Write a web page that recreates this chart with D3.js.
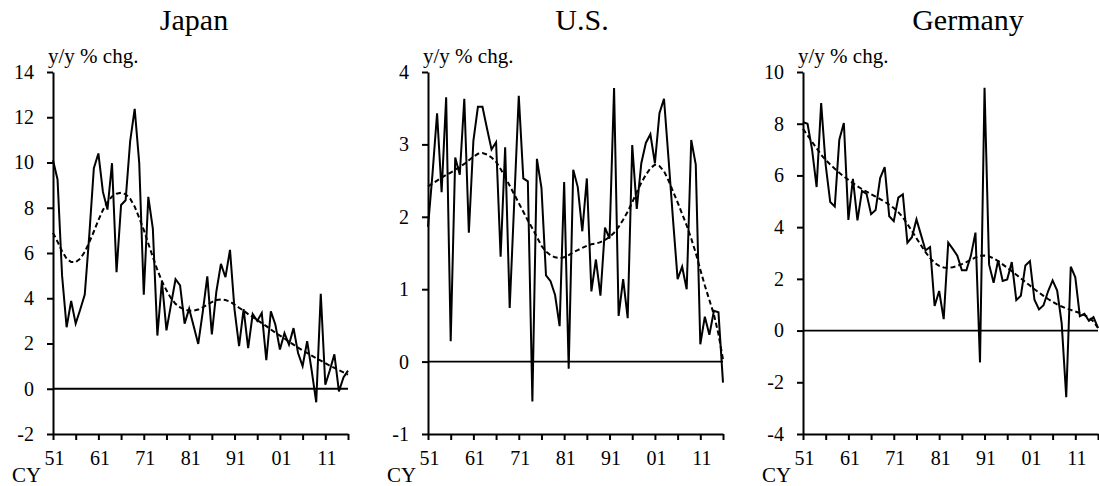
<!DOCTYPE html>
<html>
<head>
<meta charset="utf-8">
<script src="https://cdn.jsdelivr.net/npm/d3@7"></script>
<style>
  html, body { margin: 0; padding: 0; background: #fff; }
  svg { display: block; }
  svg text { font-family: "Liberation Serif", "Times New Roman", "DejaVu Serif", serif; fill: #000; }
</style>
</head>
<body>
<svg id="chart" width="1099" height="486"></svg>
<script>
// Calendar years 1951-2016
const years = d3.range(1951, 2017);
const xTickYears = [1951, 1961, 1971, 1981, 1991, 2001, 2011];
const xTickLabels = ["51", "61", "71", "81", "91", "01", "11"];

// Japan, y/y % chg.
const japanActual = [
  10.1, 9.25, 5.0, 2.72, 3.88, 2.88, 3.5, 4.16, 6.8, 9.75,
  10.4, 8.7, 7.92, 9.97, 5.15, 8.12, 8.33, 10.94, 12.37, 9.98,
  4.16, 8.48, 7.08, 2.35, 4.75, 2.58, 3.72, 4.84, 4.57, 2.88,
  3.54, 2.76, 1.98, 3.4, 4.97, 2.4, 4.3, 5.52, 4.93, 6.14,
  3.5, 1.88, 3.52, 1.8, 3.3, 3.0, 3.35, 1.26, 3.42, 2.83,
  1.73, 2.46, 1.95, 2.68, 1.58, 1.0, 2.1, 0.8, -0.6, 4.2,
  0.18, 0.82, 1.52, -0.12, 0.5, 0.8
];
const japanTrend = [
  6.89, 6.5, 6.08, 5.75, 5.6, 5.6, 5.75, 6.05, 6.48, 6.95,
  7.45, 7.9, 8.25, 8.5, 8.62, 8.66, 8.6, 8.4, 8.05, 7.55,
  7.02, 6.42, 5.82, 5.25, 4.75, 4.35, 4.0, 3.75, 3.6, 3.5,
  3.45, 3.45, 3.5, 3.6, 3.72, 3.83, 3.92, 3.95, 3.92, 3.85,
  3.72, 3.58, 3.45, 3.3, 3.17, 3.03, 2.9, 2.77, 2.62, 2.48,
  2.35, 2.22, 2.08, 1.95, 1.82, 1.7, 1.58, 1.46, 1.35, 1.24,
  1.13, 1.02, 0.92, 0.82, 0.72, 0.62
];
const japanTicks = [-2, 0, 2, 4, 6, 8, 10, 12, 14];

// U.S., y/y % chg.
const usActual = [
  1.86, 2.6, 3.43, 2.34, 3.65, 0.28, 2.82, 2.58, 3.63, 1.78,
  3.05, 3.52, 3.52, 3.22, 2.93, 3.03, 1.45, 2.96, 0.74, 2.2,
  3.67, 2.53, 2.49, -0.55, 2.8, 2.4, 1.19, 1.11, 0.92, 0.49,
  2.48, -0.1, 2.65, 2.41, 1.8, 2.53, 0.97, 1.41, 0.91, 1.85,
  1.7, 3.78, 0.63, 1.14, 0.6, 2.99, 2.11, 2.74, 3.02, 3.14,
  2.74, 3.43, 3.63, 2.8, 1.95, 1.14, 1.31, 1.0, 3.06, 2.72,
  0.24, 0.62, 0.37, 0.7, 0.68, -0.29
];
const usTrend = [
  2.42, 2.46, 2.5, 2.54, 2.58, 2.61, 2.65, 2.69, 2.73, 2.78,
  2.83, 2.87, 2.88, 2.86, 2.82, 2.76, 2.66, 2.55, 2.43, 2.31,
  2.19, 2.07, 1.95, 1.84, 1.72, 1.6, 1.52, 1.47, 1.44, 1.43,
  1.44, 1.47, 1.51, 1.54, 1.57, 1.6, 1.62, 1.63, 1.65, 1.68,
  1.72, 1.78, 1.86, 1.96, 2.07, 2.2, 2.34, 2.47, 2.58, 2.67,
  2.72, 2.7, 2.63, 2.5, 2.35, 2.2, 2.04, 1.88, 1.7, 1.5,
  1.27, 1.05, 0.85, 0.65, 0.38, 0.03
];
const usTicks = [-1, 0, 1, 2, 3, 4];

// Germany, y/y % chg.
const germanyActual = [
  8.06, 8.0, 7.0, 5.55, 8.8, 6.4, 4.97, 4.8, 7.38, 8.03,
  4.28, 5.87, 4.26, 5.4, 5.29, 4.5, 4.66, 5.9, 6.32, 4.42,
  4.23, 5.14, 5.27, 3.4, 3.61, 4.3, 3.7, 3.1, 3.23, 0.95,
  1.53, 0.44, 3.4, 3.16, 2.9, 2.33, 2.33, 2.9, 3.79, -1.23,
  9.39, 2.56, 1.85, 2.72, 1.92, 1.98, 2.65, 1.18, 1.35, 2.52,
  2.69, 1.19, 0.82, 0.98, 1.52, 1.94, 1.55, 0.28, -2.58, 2.47,
  2.06, 0.56, 0.65, 0.38, 0.52, 0.1
];
const germanyTrend = [
  7.8, 7.55, 7.3, 7.05, 6.8, 6.6, 6.42, 6.26, 6.1, 5.96,
  5.83, 5.7, 5.58, 5.47, 5.37, 5.27, 5.18, 5.08, 4.98, 4.87,
  4.74, 4.58, 4.38, 4.12, 3.85, 3.57, 3.3, 3.03, 2.8, 2.62,
  2.5, 2.44, 2.43, 2.45, 2.5, 2.57, 2.65, 2.74, 2.83, 2.89,
  2.9, 2.87, 2.79, 2.69, 2.56, 2.43, 2.3, 2.16, 2.02, 1.88,
  1.74, 1.6, 1.47, 1.34, 1.22, 1.11, 1.01, 0.93, 0.86, 0.8,
  0.74, 0.68, 0.6, 0.5, 0.35, 0.1
];
const germanyTicks = [-4, -2, 0, 2, 4, 6, 8, 10];

const panels = [
  { title: "Japan",   titleX: 194, left: 53,  actual: japanActual,   trend: japanTrend,   ticks: japanTicks },
  { title: "U.S.",    titleX: 582, left: 428, actual: usActual,      trend: usTrend,      ticks: usTicks },
  { title: "Germany", titleX: 968, left: 803, actual: germanyActual, trend: germanyTrend, ticks: germanyTicks }
];

const plotTop = 72, plotBottom = 434, plotWidth = 295;
const svg = d3.select("#chart");

panels.forEach(p => {
  const g = svg.append("g");
  const x = d3.scaleLinear()
    .domain([years[0], years[years.length - 1]])
    .range([p.left, p.left + plotWidth]);
  const y = d3.scaleLinear()
    .domain([p.ticks[0], p.ticks[p.ticks.length - 1]])
    .range([plotBottom, plotTop]);

  // title
  g.append("text")
    .attr("x", p.titleX).attr("y", 30)
    .attr("text-anchor", "middle")
    .attr("font-size", 30)
    .text(p.title);

  // unit label
  g.append("text")
    .attr("x", p.left - 5).attr("y", 63)
    .attr("font-size", 21)
    .text("y/y % chg.");

  // y axis
  const yAxis = g.append("g")
    .attr("transform", `translate(${p.left},0)`)
    .call(d3.axisLeft(y).tickValues(p.ticks).tickSize(6).tickSizeOuter(0).tickPadding(13)
      .tickFormat(d => String(d)));

  // x axis: ticks every 5 years, labels every 10
  const xTicks = d3.range(years[0], years[years.length - 1] + 1, 5);
  const xAxis = g.append("g")
    .attr("transform", `translate(0,${plotBottom})`)
    .call(d3.axisBottom(x).tickValues(xTicks).tickSize(6).tickSizeOuter(0).tickPadding(11)
      .tickFormat(d => {
        const i = xTickYears.indexOf(d);
        return i >= 0 ? xTickLabels[i] : "";
      }));
  xAxis.selectAll("text").attr("dx", 1);

  [yAxis, xAxis].forEach(a => {
    a.attr("font-family", null).attr("font-size", null);
    a.selectAll("text").attr("font-size", 20).attr("fill", "#000");
    a.select(".domain").attr("stroke", "#000").attr("stroke-width", 2);
    a.selectAll(".tick line").attr("stroke", "#000").attr("stroke-width", 2);
  });

  // CY label
  g.append("text")
    .attr("x", p.left - 41).attr("y", 482)
    .attr("font-size", 21)
    .text("CY");

  // zero line
  g.append("line")
    .attr("x1", p.left).attr("x2", p.left + plotWidth)
    .attr("y1", y(0)).attr("y2", y(0))
    .attr("stroke", "#000").attr("stroke-width", 1.8);

  const line = d3.line().x((d, i) => x(years[i])).y(d => y(d));

  g.append("path")
    .datum(p.trend)
    .attr("d", line)
    .attr("fill", "none")
    .attr("stroke", "#000")
    .attr("stroke-width", 2)
    .attr("stroke-dasharray", "5,3");

  g.append("path")
    .datum(p.actual)
    .attr("d", line)
    .attr("fill", "none")
    .attr("stroke", "#000")
    .attr("stroke-width", 2)
    .attr("stroke-linejoin", "miter");
});
</script>
</body>
</html>
